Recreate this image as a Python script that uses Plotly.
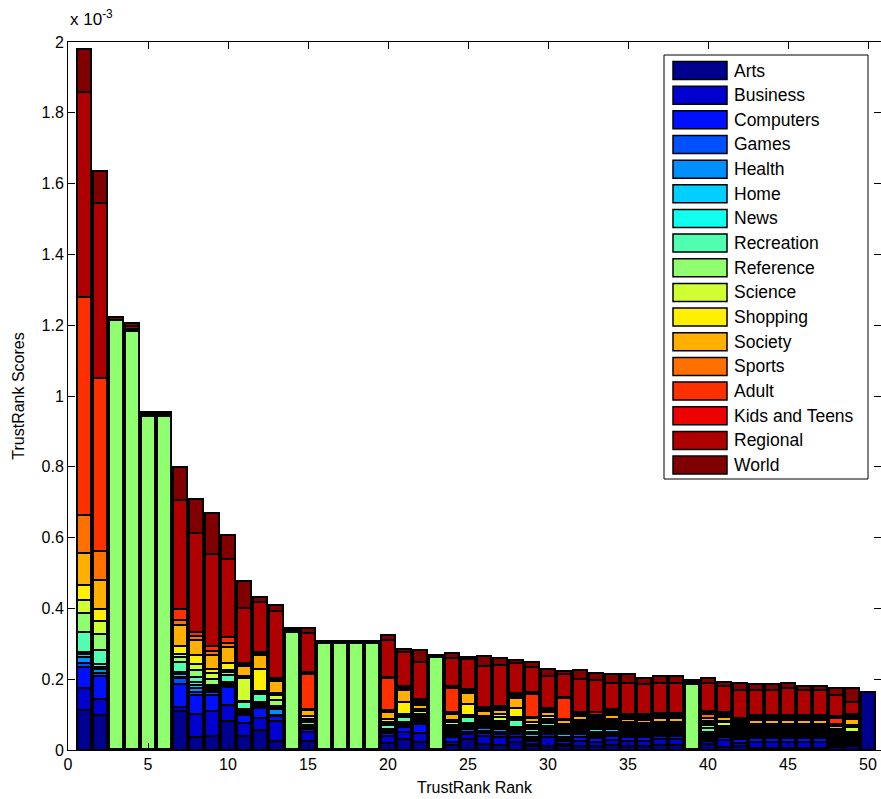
import plotly.graph_objects as go

# ---------------- data (TrustRank scores, units of 1e-3) ----------------
categories = ["Arts", "Business", "Computers", "Games", "Health", "Home", "News",
              "Recreation", "Reference", "Science", "Shopping", "Society", "Sports",
              "Adult", "Kids and Teens", "Regional", "World"]

colors = ["rgb(0,0,143)", "rgb(0,0,207)", "rgb(0,16,255)", "rgb(0,80,255)",
          "rgb(0,143,255)", "rgb(0,207,255)", "rgb(16,255,239)", "rgb(80,255,175)",
          "rgb(143,255,112)", "rgb(207,255,48)", "rgb(255,239,0)", "rgb(255,175,0)",
          "rgb(255,112,0)", "rgb(255,48,0)", "rgb(239,0,0)", "rgb(175,0,0)",
          "rgb(128,0,0)"]

ranks = list(range(1, 51))

arts = [.113, .1, .004, .004, .004, .004, .11, .037, .04, .082,
        .04, .056, .026, .004, .025, .004, .004, .004, .004, .02,
        .03, .023, .004, .014, .03, .017, .014, .022, .01, .012,
        .01, .01, .012, .014, .012, .012, .014, .014, .004, .018,
        .008, .01, .006, .006, .006, .006, .006, .008, .01, .164]
business = [.062, .045, 0, 0, 0, 0, .012, .065, .07, .045,
            .036, .035, .056, 0, .025, 0, 0, 0, 0, .02,
            .02, .025, 0, .01, .014, .022, .022, .014, .008, .025,
            .006, .016, .012, .014, .014, .014, .016, .016, 0, .008,
            .02, .01, .018, .018, .018, .018, .018, .005, .005, 0]
computers = [.06, .065, 0, 0, 0, 0, .065, .052, .045, .05,
             .022, .028, .014, 0, .008, 0, 0, 0, 0, .008,
             .016, .025, 0, .012, .008, .01, .01, .01, .008, .008,
             .01, .012, .01, .012, .012, .01, .01, .01, 0, .005,
             .01, .01, .01, .01, .01, .01, .01, .005, .005, 0]
games = [.012, .008, 0, 0, 0, 0, .015, .01, .008, .006,
         .004, .004, .004, 0, .004, 0, 0, 0, 0, .003,
         .004, .004, 0, .006, .006, .006, .006, .005, .006, .006,
         .006, .006, .006, .006, .005, .005, .005, .005, 0, .005,
         .005, .005, .005, .005, .005, .005, .005, .005, .005, 0]
health = [.015, .012, 0, 0, 0, 0, .005, .012, .004, .003,
          .004, .004, .015, 0, .003, 0, 0, 0, 0, .003,
          .003, .004, 0, .006, .006, .006, .006, .005, .006, .006,
          .006, .006, .006, .006, .005, .005, .005, .005, 0, .005,
          .005, .005, .005, .005, .005, .005, .005, .005, .005, 0]
home = [.01, .005, 0, 0, 0, 0, .008, .008, .006, .004,
        .006, .006, .003, 0, .003, 0, 0, 0, 0, .003,
        .003, .004, 0, .006, .006, .006, .006, .005, .006, .006,
        .006, .006, .006, .006, .005, .005, .005, .005, 0, .005,
        .005, .005, .005, .005, .005, .005, .005, .005, .005, 0]
news = [.005, .008, 0, 0, 0, 0, .005, .008, .004, .003,
        .003, .003, .003, 0, .004, 0, 0, 0, 0, .003,
        .003, .004, 0, .006, .006, .006, .006, .005, .006, .006,
        .006, .006, .006, .006, .005, .005, .005, .005, 0, .005,
        .005, .005, .005, .005, .005, .005, .005, .005, .005, 0]
recreation = [.056, .04, 0, 0, 0, 0, .03, .014, .008, .018,
              .02, .022, .004, 0, .008, 0, 0, 0, 0, .01,
              .014, .006, 0, .006, .016, .006, .006, .018, .01, .006,
              .006, .006, .006, .006, .005, .005, .005, .005, 0, .01,
              .005, .005, .005, .005, .005, .005, .005, .005, .005, 0]
reference = [.054, .045, 1.21, 1.18, .94, .94, .012, .02, .015, .01,
             .004, .004, .015, .33, .004, .298, .298, .298, .298, .004,
             .004, .006, .258, .006, .004, .006, .006, .004, .006, .006,
             .006, .006, .006, .006, .005, .005, .005, .005, .183, .01,
             .005, .005, .005, .005, .005, .005, .005, .005, .005, 0]
science = [.037, .037, 0, 0, 0, 0, .008, .017, .017, .006,
           .065, .004, .016, 0, .004, 0, 0, 0, 0, .004,
           .004, .01, 0, .006, .004, .006, .01, .004, .006, .006,
           .006, .006, .006, .006, .005, .005, .005, .005, 0, .005,
           .01, .005, .005, .005, .005, .005, .005, .005, .016, 0]
shopping = [.042, .034, 0, 0, 0, 0, .025, .025, .012, .018,
            .004, .062, .004, 0, .008, 0, 0, 0, 0, .01,
            .035, .006, 0, .006, .03, .006, .01, .028, .006, .01,
            .006, .006, .006, .006, .005, .005, .005, .005, 0, .005,
            .005, .005, .005, .005, .005, .005, .005, .005, .005, 0]
society = [.09, .082, 0, 0, 0, 0, .058, .042, .04, .045,
           .03, .04, .036, 0, .016, 0, 0, 0, 0, .02,
           .033, .01, 0, .018, .03, .012, .01, .028, .012, .01,
           .01, .01, .006, .012, .01, .01, .01, .01, 0, .01,
           .01, .005, .01, .01, .01, .01, .01, .01, .016, 0]
sports = [.107, .08, 0, 0, 0, 0, .014, .012, .012, .012,
          .004, .005, .004, 0, .004, 0, 0, 0, 0, .004,
          .004, .006, 0, .004, .004, .004, .004, .004, .004, .004,
          .004, .004, .006, .005, .005, .005, .005, .005, 0, .01,
          .005, .005, .005, .005, .005, .005, .005, .005, .005, 0]
adult = [.616, .49, 0, 0, 0, 0, .03, .012, .012, .017,
         .004, .005, .004, 0, .1, 0, 0, 0, 0, .09,
         .004, .006, 0, .07, .004, .004, .004, .004, .065, .004,
         .058, .004, .006, .005, .005, .005, .005, .005, 0, .005,
         .005, .005, .005, .005, .005, .005, .005, .018, .005, 0]
kids_and_teens = [0, 0, 0, .005, 0, 0, 0, 0, 0, 0,
                  0, 0, 0, 0, .004, 0, 0, 0, 0, .004,
                  .004, .006, 0, .004, .004, .004, .004, .004, .004, .004,
                  .004, .004, .006, .005, .005, .005, .005, .005, 0, .005,
                  .005, .005, .005, .005, .005, .005, .005, .005, .005, 0]
regional = [.58, .495, 0, .008, .004, .004, .31, .279, .26, .22,
            .155, .14, .19, .005, .11, 0, 0, 0, 0, .105,
            .095, .103, 0, .08, .085, .115, .115, .085, .072, .09,
            .065, .093, .091, .075, .085, .085, .083, .083, .004, .077,
            .072, .08, .07, .07, .075, .07, .07, .06, .033, 0]
world = [.12, .09, .008, .008, .008, .008, .093, .096, .116, .068,
         .076, .014, .017, .005, .014, .005, .005, .005, .005, .014,
         .01, .035, .006, .014, .006, .03, .022, .008, .014, .02,
         .008, .025, .02, .025, .028, .018, .022, .022, .006, .015,
         .012, .02, .017, .017, .014, .012, .012, .02, .04, 0]

series = [arts, business, computers, games, health, home, news, recreation,
          reference, science, shopping, society, sports, adult, kids_and_teens,
          regional, world]

x_ticks = [0, 5, 10, 15, 20, 25, 30, 35, 40, 45, 50]
y_ticks = [0, 0.2, 0.4, 0.6, 0.8, 1.0, 1.2, 1.4, 1.6, 1.8, 2.0]
y_tick_text = ["0", "0.2", "0.4", "0.6", "0.8", "1", "1.2", "1.4", "1.6", "1.8", "2"]

# ---------------- figure ----------------
FONT = "Liberation Sans, Arial, Helvetica, sans-serif"
W, H = 881, 799
ML, MR, MT, MB = 68, 0, 42, 49
PW, PH = W - ML - MR, H - MT - MB

fig = go.Figure()
for name, col, vals in zip(categories, colors, series):
    fig.add_trace(go.Bar(
        x=ranks, y=vals, name=name, width=0.82, showlegend=False,
        marker=dict(color=col, line=dict(color="black", width=2.5)),
    ))

# custom MATLAB-style legend (wide swatches)
def px_x(px):
    return (px - ML) / PW

def px_y(py):
    return (H - MB - py) / PH

shapes = [dict(type="rect", xref="paper", yref="paper",
               x0=px_x(664), x1=px_x(868), y0=px_y(479), y1=px_y(55),
               fillcolor="white", line=dict(color="black", width=1), layer="above")]
annotations = []
for i, (name, col) in enumerate(zip(categories, colors)):
    cy = 70.5 + 24.66 * i
    shapes.append(dict(type="rect", xref="paper", yref="paper",
                       x0=px_x(673), x1=px_x(727), y0=px_y(cy + 9), y1=px_y(cy - 9),
                       fillcolor=col, line=dict(color="black", width=1.5), layer="above"))
    annotations.append(dict(xref="paper", yref="paper", x=px_x(732), y=px_y(cy),
                            text=name, showarrow=False, xanchor="left", yanchor="middle",
                            font=dict(family=FONT, size=17.5, color="black")))

annotations.append(dict(xref="paper", yref="paper", x=0, y=px_y(18),
                        text="x 10<sup>-3</sup>", showarrow=False,
                        xanchor="left", yanchor="middle",
                        font=dict(family=FONT, size=17, color="black")))

fig.update_layout(
    width=W, height=H, barmode="stack", bargap=0,
    margin=dict(l=ML, r=MR, t=MT, b=MB, pad=0),
    plot_bgcolor="white", paper_bgcolor="white",
    font=dict(family=FONT, size=16, color="black"),
    shapes=shapes, annotations=annotations,
    xaxis=dict(range=[0, PW / 16.0], tickvals=x_ticks, ticks="inside", ticklen=7,
               tickcolor="black", showline=True, linecolor="black", linewidth=1,
               mirror="ticks", showgrid=False, zeroline=False,
               tickfont=dict(family=FONT, size=16),
               title=dict(text="TrustRank Rank", standoff=9,
                          font=dict(family=FONT, size=16))),
    yaxis=dict(range=[0, 2], tickvals=y_ticks, ticktext=y_tick_text, ticks="inside",
               ticklen=7, tickcolor="black", showline=True, linecolor="black",
               linewidth=1, mirror="ticks", showgrid=False, zeroline=False,
               tickfont=dict(family=FONT, size=16),
               title=dict(text="TrustRank Scores", standoff=12,
                          font=dict(family=FONT, size=16))),
)

fig.write_html("out.html")
